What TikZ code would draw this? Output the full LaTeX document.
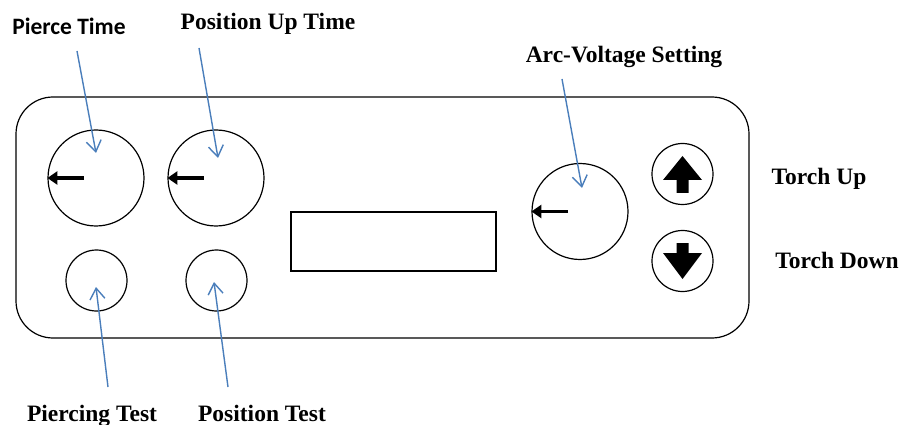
\documentclass[tikz,border=0pt]{standalone}
\usepackage{fontspec}
\setmainfont{Liberation Serif}
\newfontfamily\calibfont{Carlito}
\usetikzlibrary{arrows.meta}
\definecolor{ptrblue}{HTML}{4A7EBB}
\begin{document}
\begin{tikzpicture}[x=1pt,y=-1pt,
  knob/.style={circle,draw,line width=1.2pt,minimum size=96pt,inner sep=0pt},
  btn/.style={circle,draw,line width=1.2pt,minimum size=61pt,inner sep=0pt},
  lbl/.style={font=\fontsize{23.5}{28}\selectfont\bfseries,inner sep=0pt,anchor=base},
  pointer/.style={line width=1.4pt,draw=ptrblue,-{Straight Barb[length=11pt,width=15pt,line width=1.4pt]}},
  indicator/.style={line width=3.6pt,-{Triangle[length=10pt,width=13pt]}}]
\useasboundingbox (0,0) rectangle (903,425);

% panel and display
\node[draw,line width=1.2pt,rounded corners=37pt,minimum width=733pt,minimum height=241pt,inner sep=0pt] (panel) at (382.5,217.5) {};
\node[draw,line width=1.2pt,minimum width=205pt,minimum height=59pt,inner sep=0pt] (disp) at (393.5,241.5) {};

% knobs
\node[knob] (pierce) at (96,178) {};
\node[knob] (posup) at (216,178) {};
\node[knob] (arcv) at (580,211.5) {};
\node[btn] (ptest) at (96.5,280.5) {};
\node[btn] (postest) at (216.5,280.5) {};
\node[btn] (up) at (682.5,174) {};
\node[btn] (down) at (682.5,261) {};

% indicators
\draw[indicator] ([xshift=-12pt]pierce.center) -- (pierce.west);
\draw[indicator] ([xshift=-12pt]posup.center) -- (posup.west);
\draw[indicator] ([xshift=-12pt]arcv.center) -- (arcv.west);

% block arrows
\begin{scope}[shift={(up.center)}]
\fill (0,-18) -- (19.5,6) -- (6,6) -- (6,19) -- (-6,19) -- (-6,6) -- (-19.5,6) -- cycle;
\end{scope}
\begin{scope}[shift={(down.center)}]
\fill (0,18) -- (19.5,-8) -- (6,-8) -- (6,-18) -- (-6,-18) -- (-6,-8) -- (-19.5,-8) -- cycle;
\end{scope}

% labels
\node[inner sep=0pt,anchor=base,font=\calibfont\fontsize{23.5}{28}\selectfont\bfseries] (lpierce) at (69,35) {Pierce Time};
\node[lbl] (lposup) at (268,30) {Position Up Time};
\node[lbl] (larcv) at (624,63) {Arc-Voltage Setting};
\node[lbl] (lup) at (819,185) {Torch Up};
\node[lbl] (ldown) at (837,268) {Torch Down};
\node[lbl] (lptest) at (92,421) {Piercing Test};
\node[lbl] (lpostest) at (262,421) {Position Test};

% pointer coordinates
\coordinate (s1) at (77,51);  \coordinate (e1) at (96,153);
\coordinate (s2) at (199,48); \coordinate (e2) at (218,158);
\coordinate (s3) at (562,79); \coordinate (e3) at (582,188);
\coordinate (s4) at (108,387); \coordinate (e4) at (96,287);
\coordinate (s5) at (228,387); \coordinate (e5) at (214,282);
\draw[pointer] (s1) -- (e1);
\draw[pointer] (s2) -- (e2);
\draw[pointer] (s3) -- (e3);
\draw[pointer] (s4) -- (e4);
\draw[pointer] (s5) -- (e5);
\end{tikzpicture}
\end{document}
